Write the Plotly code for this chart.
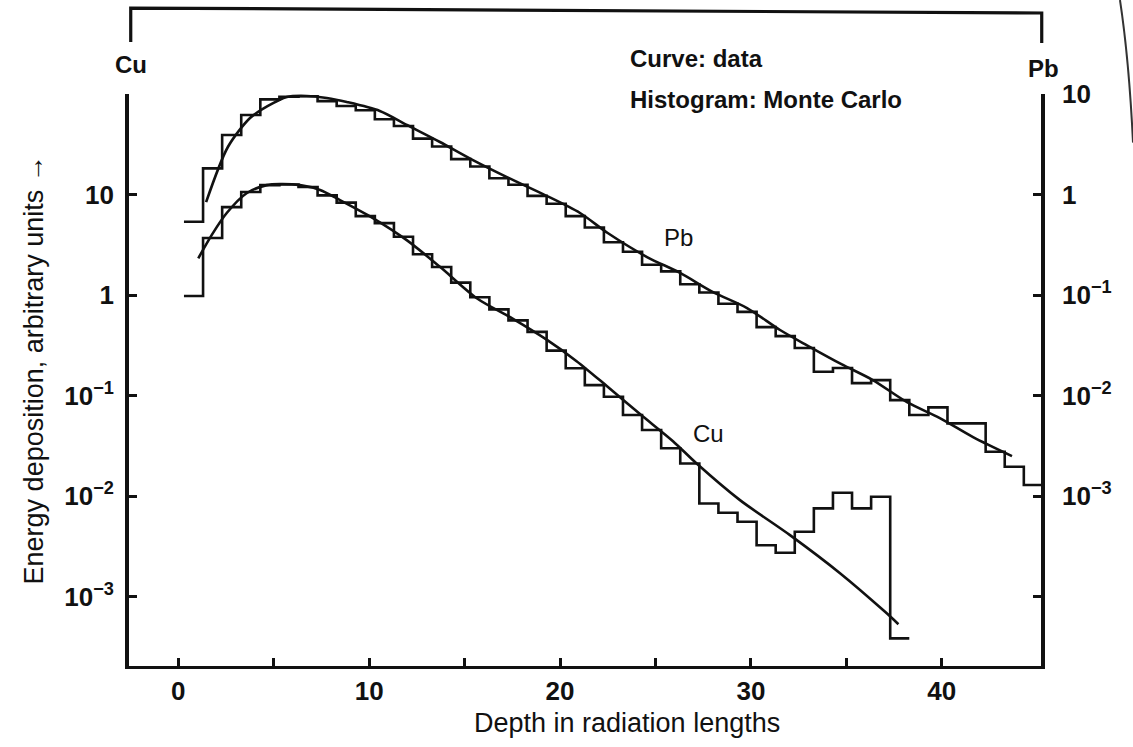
import plotly.graph_objects as go

# ---- Measured energy-deposition curves (data) ----
cu_curve_depth = [1.05, 1.75, 2.54, 3.58, 4.63, 5.33, 6.38, 7.43, 8.47, 10.22, 11.97, 13.71,
                  15.64, 17.54, 19.3, 20.87, 22.45, 24.19, 25.92, 27.16, 29.43, 32.05, 34.67,
                  37.03, 37.73]
cu_curve_value = [2.32, 3.95, 6.55, 10.3, 12.4, 12.7, 12.4, 11.1, 8.81, 5.8, 3.52, 1.91,
                  0.93, 0.58, 0.36, 0.22, 0.1245, 0.0655, 0.0352, 0.0211, 0.00912, 0.00409,
                  0.00171, 0.000706, 0.000532]

pb_curve_depth = [1.46, 2.6, 3.76, 4.7, 5.69, 6.73, 7.78, 8.83, 10.56, 11.98, 13.71, 15.44,
                  17.22, 19.11, 21.05, 22.5, 24.56, 26.29, 28.02, 29.8, 31.53, 32.94, 34.77,
                  36.39, 38.18, 39.9, 41.64, 43.68]
pb_curve_value = [0.84, 2.97, 5.77, 7.6, 9.34, 9.56, 9.12, 8.32, 6.78, 4.92, 3.33, 2.2,
                  1.49, 1.01, 0.655, 0.414, 0.239, 0.166, 0.107, 0.0743, 0.0449, 0.0316,
                  0.0204, 0.01426, 0.0086, 0.00597, 0.00386, 0.0025]

# ---- Monte Carlo histograms: bin edges and contents ----
cu_bin_edges = [0.3, 1.3, 2.3, 3.3, 4.3, 5.3, 6.3, 7.3, 8.3, 9.3, 10.3, 11.3, 12.3, 13.3,
                14.3, 15.3, 16.3, 17.3, 18.3, 19.3, 20.3, 21.3, 22.3, 23.3, 24.3, 25.3, 26.3,
                27.3, 28.3, 29.3, 30.3, 31.3, 32.3, 33.3, 34.3, 35.3, 36.3, 37.3, 38.3]
cu_bin_value = [0.98, 3.69, 7.5, 10.6, 12.4, 12.6, 11.9, 9.8, 8.3, 6.1, 5.2, 3.8, 2.55, 1.9,
                1.33, 0.95, 0.72, 0.56, 0.43, 0.28, 0.187, 0.127, 0.0973, 0.064, 0.0454,
                0.0299, 0.0211, 0.00845, 0.00682, 0.00555, 0.00325, 0.00273, 0.00442,
                0.00755, 0.0108, 0.00755, 0.00984, 0.000384]

pb_bin_edges = [0.3, 1.3, 2.3, 3.3, 4.3, 5.3, 6.3, 7.3, 8.3, 9.3, 10.3, 11.3, 12.3, 13.3,
                14.3, 15.3, 16.3, 17.3, 18.3, 19.3, 20.3, 21.3, 22.3, 23.3, 24.3, 25.3, 26.3,
                27.3, 28.3, 29.3, 30.3, 31.3, 32.3, 33.3, 34.3, 35.3, 36.3, 37.3, 38.3, 39.3,
                40.3, 41.3, 42.3, 43.3, 44.3, 45.3]
pb_bin_value = [0.536, 1.82, 3.91, 6.18, 8.85, 9.4, 9.5, 8.5, 7.6, 6.9, 5.6, 4.8, 3.6, 3.0,
                2.25, 1.9, 1.45, 1.25, 0.97, 0.81, 0.61, 0.47, 0.335, 0.27, 0.20, 0.172,
                0.128, 0.106, 0.082, 0.068, 0.048, 0.039, 0.0297, 0.01725, 0.0188, 0.0133,
                0.01426, 0.00902, 0.0064, 0.00763, 0.00529, 0.00529, 0.00276, 0.00196,
                0.00129]

# ---- Axis ticks ----
x_tick_vals = [0, 10, 20, 30, 40]
x_tick_text = ["0", "10", "20", "30", "40"]
x_minor_vals = [5, 15, 25, 35]
cu_tick_vals = [1e-3, 1e-2, 1e-1, 1, 10]
cu_tick_text = ["10<sup>−3</sup>", "10<sup>−2</sup>", "10<sup>−1</sup>", "1", "10"]
cu_minor_vals = [100]
pb_tick_vals = [1e-3, 1e-2, 1e-1, 1, 10]
pb_tick_text = ["10<sup>−3</sup>", "10<sup>−2</sup>", "10<sup>−1</sup>", "1", "10"]
pb_minor_vals = [1e-4]

FONT = "Liberation Sans, Arial, Helvetica, sans-serif"
INK = "#111111"


def step_xy(edges, values):
    """Outline of a histogram drawn as a stepped line."""
    return list(edges), list(values) + [values[-1]]


fig = go.Figure()

cx, cy = step_xy(cu_bin_edges, cu_bin_value)
fig.add_trace(go.Scatter(x=cx, y=cy, mode="lines", line=dict(shape="hv", color=INK, width=2.6),
                         yaxis="y", name="Cu Monte Carlo", showlegend=False))
fig.add_trace(go.Scatter(x=cu_curve_depth, y=cu_curve_value, mode="lines",
                         line=dict(shape="spline", smoothing=0.8, color=INK, width=2.6),
                         yaxis="y", name="Cu data", showlegend=False))

px_, py_ = step_xy(pb_bin_edges, pb_bin_value)
fig.add_trace(go.Scatter(x=px_, y=py_, mode="lines", line=dict(shape="hv", color=INK, width=2.6),
                         yaxis="y2", name="Pb Monte Carlo", showlegend=False))
fig.add_trace(go.Scatter(x=pb_curve_depth, y=pb_curve_value, mode="lines",
                         line=dict(shape="spline", smoothing=0.8, color=INK, width=2.6),
                         yaxis="y2", name="Pb data", showlegend=False))

tick_font = dict(family=FONT, size=26, color=INK, weight="bold")
minor_style = dict(ticks="inside", ticklen=8, tickwidth=2.5, tickcolor=INK, showgrid=False)

fig.update_layout(
    width=1133, height=747,
    margin=dict(l=129, r=92, t=94, b=81),
    paper_bgcolor="white", plot_bgcolor="white",
    showlegend=False,
    xaxis=dict(range=[-2.58, 45.2], showgrid=False, zeroline=False,
               showline=True, linecolor=INK, linewidth=2.6,
               ticks="inside", ticklen=8, tickwidth=2.5, tickcolor=INK,
               tickvals=x_tick_vals, ticktext=x_tick_text, tickfont=tick_font,
               ticklabelstandoff=0,
               minor=dict(tickvals=x_minor_vals, **minor_style)),
    yaxis=dict(type="log", range=[-3.69, 2.0], showgrid=False, zeroline=False,
               showline=True, linecolor=INK, linewidth=3.6,
               ticks="inside", ticklen=8, tickwidth=2.5, tickcolor=INK,
               tickvals=cu_tick_vals, ticktext=cu_tick_text, tickfont=tick_font,
               ticklabelstandoff=6,
               minor=dict(tickvals=cu_minor_vals, **minor_style)),
    yaxis2=dict(type="log", range=[-4.69, 1.0], overlaying="y", side="right", anchor="x",
                showgrid=False, zeroline=False,
                showline=True, linecolor=INK, linewidth=3.6,
                ticks="inside", ticklen=8, tickwidth=2.5, tickcolor=INK,
                tickvals=pb_tick_vals, ticktext=pb_tick_text, tickfont=tick_font,
                ticklabelstandoff=12,
                minor=dict(tickvals=pb_minor_vals, **minor_style)),
)

# Open frame above the two scales, with the material labels in its gaps
fig.add_shape(type="path", xref="paper", yref="paper",
              path="M 0.0019,1.0909 L 0.0019,1.1503 L 1.0008,1.1416 L 1.0008,1.0892",
              line=dict(color=INK, width=3.2))
# Page edge at the far right
fig.add_shape(type="path", xref="paper", yref="paper",
              path="M 1.0866,1.1643 Q 1.0965,1.06 1.1009,0.915",
              line=dict(color="#333333", width=2))


def note(text, x, y, size=24, bold=True, xanchor="center", angle=0):
    fig.add_annotation(text=text, x=x, y=y, xref="paper", yref="paper", showarrow=False,
                       xanchor=xanchor, yanchor="middle", textangle=angle,
                       font=dict(family=FONT, size=size, color=INK,
                                 weight="bold" if bold else "normal"))


note("Cu", 0.0022, 1.051)
note("Pb", 1.0022, 1.045)
note("Curve: data", 0.547, 1.062, size=24, xanchor="left")
note("Histogram: Monte Carlo", 0.547, 0.991, size=24, xanchor="left")
note("Pb", 0.603, 0.75, size=24, bold=False)
note("Cu", 0.635, 0.4056, size=24, bold=False)
note("Depth in radiation lengths", 0.546, -0.1, size=27, bold=False)
note("Energy deposition, arbitrary units →", -0.104, 0.517, size=27, bold=False, angle=-90)

fig.write_html("out.html")
